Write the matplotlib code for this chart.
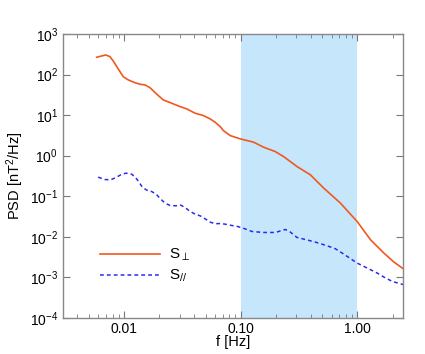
import matplotlib
matplotlib.use('Agg')
import matplotlib.pyplot as plt
import numpy as np
from matplotlib.ticker import LogLocator, FixedLocator, FixedFormatter, NullFormatter, LogFormatterSciNotation

plt.rcParams['font.family'] = ['Liberation Sans', 'DejaVu Sans']
plt.rcParams['mathtext.fontset'] = 'custom'
plt.rcParams['mathtext.rm'] = 'Liberation Sans'
plt.rcParams['mathtext.it'] = 'Liberation Sans:italic'
plt.rcParams['mathtext.default'] = 'regular'

# log10 of frequency [Hz] and log10 of PSD [nT^2/Hz]
perp_logf = [-2.234, -2.191, -2.155, -2.120, -2.092, -2.049, -2.006, -1.963, -1.906,
             -1.863, -1.820, -1.777, -1.719, -1.663, -1.591, -1.519, -1.462, -1.391,
             -1.319, -1.262, -1.219, -1.176, -1.148, -1.090, -1.004, -0.890, -0.804,
             -0.704, -0.633, -0.518, -0.403, -0.289, -0.146, -0.003, 0.112, 0.226,
             0.312, 0.392]
perp_logp = [2.426, 2.458, 2.483, 2.441, 2.335, 2.138, 1.948, 1.867, 1.800,
             1.761, 1.744, 1.677, 1.515, 1.374, 1.293, 1.209, 1.153, 1.047,
             0.988, 0.906, 0.825, 0.717, 0.618, 0.495, 0.414, 0.333, 0.209,
             0.101, -0.022, -0.268, -0.473, -0.800, -1.170, -1.623, -2.074, -2.401,
             -2.623, -2.788]

par_logf = [-2.221, -2.163, -2.114, -2.069, -2.028, -1.983, -1.934, -1.900, -1.871,
            -1.843, -1.805, -1.762, -1.719, -1.685, -1.648, -1.605, -1.554, -1.513,
            -1.470, -1.433, -1.391, -1.348, -1.305, -1.262, -1.219, -1.170, -1.118,
            -1.076, -1.027, -0.981, -0.904, -0.804, -0.704, -0.618, -0.575, -0.518,
            -0.446, -0.361, -0.260, -0.189, -0.118, -0.003, 0.083, 0.169, 0.226,
            0.298, 0.397]
par_logp = [-0.530, -0.589, -0.596, -0.539, -0.473, -0.431, -0.456, -0.539, -0.653,
            -0.776, -0.850, -0.884, -0.966, -1.071, -1.170, -1.229, -1.236, -1.219,
            -1.293, -1.377, -1.441, -1.483, -1.557, -1.638, -1.680, -1.672, -1.697,
            -1.722, -1.746, -1.786, -1.869, -1.894, -1.894, -1.820, -1.884, -2.017,
            -2.067, -2.131, -2.222, -2.296, -2.426, -2.648, -2.771, -2.894, -2.993,
            -3.101, -3.182]

band = (0.1, 1.0)
xticks = [0.01, 0.1, 1.0]
xticklabels = ['0.01', '0.10', '1.00']

fig = plt.figure(figsize=(4.25, 3.54), dpi=100)
ax = fig.add_axes([0.148, 0.102, 0.8, 0.802])

ax.axvspan(band[0], band[1], color='#c5e6fb', lw=0, zorder=0)

ax.plot(10 ** np.array(perp_logf), 10 ** np.array(perp_logp), color='#f0581e', lw=1.2,
        label=r'S$_{\perp}$')
ax.plot(10 ** np.array(par_logf), 10 ** np.array(par_logp), color='#2b2bef', lw=1.1,
        ls=(0, (2.5, 2)), label=r'S$_{//}$')

ax.set_xscale('log')
ax.set_yscale('log')
ax.set_xlim(0.003, 2.45)
ax.set_ylim(1e-4, 1e3)

ax.xaxis.set_major_locator(FixedLocator(xticks))
ax.xaxis.set_major_formatter(FixedFormatter(xticklabels))
ax.xaxis.set_minor_locator(LogLocator(base=10, subs=np.arange(2, 10)))
ax.xaxis.set_minor_formatter(NullFormatter())
ax.yaxis.set_major_locator(FixedLocator(10.0 ** np.arange(-4, 4)))
ax.yaxis.set_major_formatter(LogFormatterSciNotation())
ax.yaxis.set_minor_locator(FixedLocator([]))
ax.yaxis.set_minor_formatter(NullFormatter())

ax.tick_params(which='both', direction='in', top=True, right=True, colors='#777777',
               labelcolor='black', labelsize=10)
ax.tick_params(which='major', length=5, width=0.8)
ax.tick_params(which='minor', length=3, width=0.6)
ax.tick_params(axis='x', pad=3)

for s in ax.spines.values():
    s.set_color('#888888')
    s.set_linewidth(1.0)

ax.set_xlabel('f [Hz]', fontsize=10.5, labelpad=-1)
ax.set_ylabel(r'PSD [nT$^2$/Hz]', fontsize=10.5, labelpad=3)

ax.legend(loc='lower left', bbox_to_anchor=(0.07, 0.07), frameon=False, fontsize=11,
          handlelength=3.9, handletextpad=0.6, labelspacing=0.3)

fig.savefig('out.png', dpi=100)
